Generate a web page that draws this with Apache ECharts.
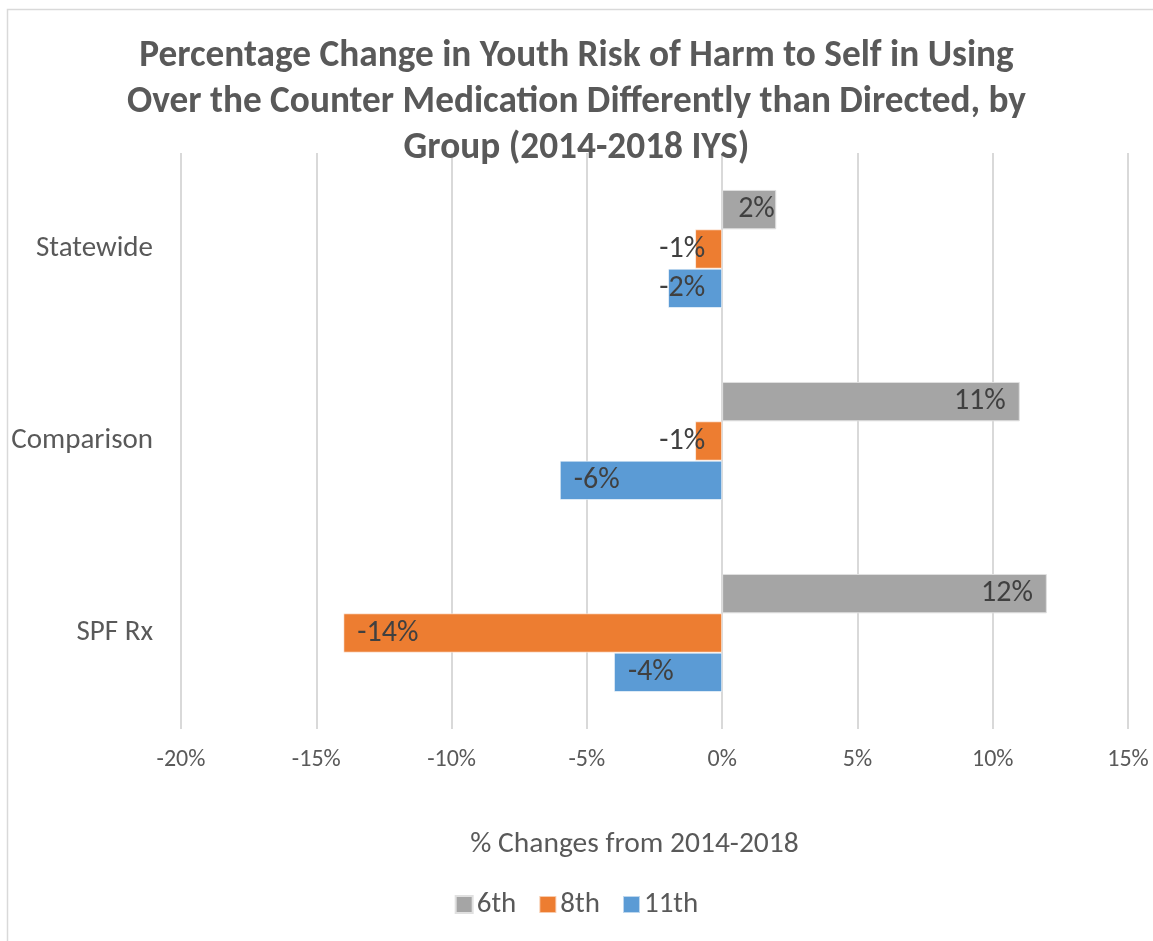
<!DOCTYPE html>
<html>
<head>
<meta charset="utf-8">
<script src="https://cdn.jsdelivr.net/npm/echarts@6/dist/echarts.min.js"></script>
<style>
html,body{margin:0;padding:0;background:#fff;}
#chart{width:1153px;height:941px;}
</style>
</head>
<body>
<div id="chart"></div>
<script>
const titleText = 'Percentage Change in Youth Risk of Harm to Self in Using\nOver the Counter Medication Differently than Directed, by\nGroup (2014-2018 IYS)';
const categories = ['Statewide', 'Comparison', 'SPF Rx'];
const seriesNames = ['6th', '8th', '11th'];
const values6th = [2, 11, 12];
const values8th = [-1, -1, -14];
const values11th = [-2, -6, -4];
const xTicks = { min: -20, max: 15, interval: 5 };
const axisName = '% Changes from 2014-2018';
const colors = ['#a5a5a5', '#ed7d31', '#5b9bd5'];

const FONT = "Carlito, Calibri, 'Liberation Sans Narrow', 'Open Sans', sans-serif";

function makeData(vals) {
  return vals.map(v => {
    let label;
    if (Math.abs(v) <= 2) {
      label = v >= 0 ? { position: 'insideLeft', distance: 16 } : { position: 'insideRight', distance: 17 };
    } else {
      label = v >= 0 ? { position: 'insideRight', distance: 14 } : { position: 'insideLeft', distance: 14 };
    }
    return { value: v, label: label };
  });
}

const allVals = [values6th, values8th, values11th];
const chart = echarts.init(document.getElementById('chart'));
chart.setOption({
  backgroundColor: '#fff',
  animation: false,
  graphic: [{
    type: 'rect', shape: { x: 7.5, y: 9.5, width: 1200, height: 1000 },
    style: { fill: 'none', stroke: '#d9d9d9', lineWidth: 1.5 }, silent: true, z: -10
  }],
  title: {
    text: titleText,
    left: 'center', top: 29, padding: [5, 5, 5, 25],
    textStyle: { fontFamily: FONT, fontWeight: 'bold', fontSize: 37.3, color: '#595959', lineHeight: 46 }
  },
  legend: {
    data: seriesNames,
    bottom: 17, left: 'center', padding: [5, 5, 5, 25],
    icon: 'rect', itemWidth: 17, itemHeight: 17, itemGap: 22,
    textStyle: { fontFamily: FONT, fontSize: 29, color: '#595959', padding: [0, 0, 0, -1] }
  },
  grid: { left: 181, right: 25, top: 153, bottom: 212, containLabel: false },
  xAxis: {
    type: 'value', min: xTicks.min, max: xTicks.max, interval: xTicks.interval,
    name: axisName, nameLocation: 'middle', nameGap: 101,
    nameTextStyle: { fontFamily: FONT, fontSize: 29.5, color: '#595959', padding: [0, 40, 0, 0] },
    axisLine: { show: false }, axisTick: { show: false },
    axisLabel: { formatter: v => v + '%', fontFamily: FONT, fontSize: 24, color: '#595959', margin: 19 },
    splitLine: { show: true, lineStyle: { color: '#d9d9d9', width: 2 } }
  },
  yAxis: {
    type: 'category', data: categories, inverse: true,
    axisLine: { show: false }, axisTick: { show: false },
    axisLabel: { fontFamily: FONT, fontSize: 29, color: '#595959', margin: 28 }
  },
  series: seriesNames.map((name, i) => ({
    name: name, type: 'bar',
    data: makeData(allVals[i]),
    barGap: '0%', barCategoryGap: '38.5%',
    itemStyle: { color: colors[i], borderColor: i === 0 ? '#e0e0e0' : 'rgba(255,255,255,0.6)', borderWidth: 1 },
    label: { show: true, formatter: p => p.value + '%', fontFamily: FONT, fontSize: 30, color: '#404040' }
  }))
});
</script>
</body>
</html>
